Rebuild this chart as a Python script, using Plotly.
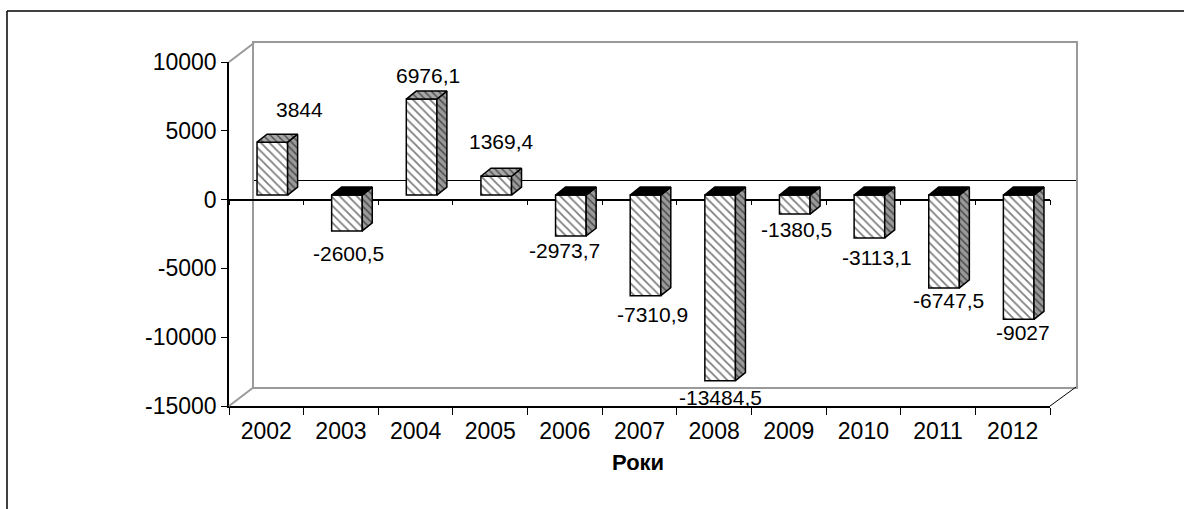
import plotly.graph_objects as go

# ---------------- data ----------------
years = ["2002", "2003", "2004", "2005", "2006", "2007", "2008", "2009", "2010", "2011", "2012"]
values = [3844, -2600.5, 6976.1, 1369.4, -2973.7, -7310.9, -13484.5, -1380.5, -3113.1, -6747.5, -9027]
y_tick_vals = [10000, 5000, 0, -5000, -10000, -15000]
y_tick_text = ["10000", "5000", "0", "-5000", "-10000", "-15000"]
x_title = "Роки"

# data-label offsets (pixels) relative to the bar end
label_dx = [27, 2, 6, 5, -6, 7, 0, 2, 8, 4, 4]
label_dy = [33, -23, 24, 35, -14, -19, -17, -15, -20, -13, -13]

# ---------------- geometry (reference pixel frame) ----------------
W, H = 1184, 509
def fx(px): return px / W
def fy(py): return 1 - py / H

Y_MIN, Y_MAX = -15000, 10000
n = len(years)
X_MIN, X_MAX = -0.5, n - 0.5

FRONT_L, FRONT_R, FRONT_T, FRONT_B = 229, 1050, 62, 406
BACK_L, BACK_R, BACK_T, BACK_B = 254, 1076, 43, 387
PLANE_DX, PLANE_DY = 6, 4.5          # bar plane offset from front plane
DEPTH_X, DEPTH_Y = 10, 8              # visible bar depth
BAR_W = 0.41
ZERO_FRONT_PX = FRONT_B - (0 - Y_MIN) * (FRONT_B - FRONT_T) / (Y_MAX - Y_MIN)

ux = (FRONT_R - FRONT_L) / n
uy = (FRONT_B - FRONT_T) / (Y_MAX - Y_MIN)
dxd = DEPTH_X / ux
dyd = DEPTH_Y / uy

FONT = "Arial, Liberation Sans, sans-serif"
WALL = "#9a9a9a"

fig = go.Figure()

# back wall (xy)
fig.add_trace(go.Scatter(x=[0.5], y=[0], mode="markers", marker=dict(opacity=0),
                         hoverinfo="skip", showlegend=False, xaxis="x", yaxis="y"))
# front axes (x2y2)
fig.add_trace(go.Scatter(x=list(range(n)), y=[0] * n, mode="markers", marker=dict(opacity=0),
                         hoverinfo="skip", showlegend=False, xaxis="x2", yaxis="y2"))
# front zero line axis (x4y2)
fig.add_trace(go.Scatter(x=list(range(n)), y=[0] * n, mode="markers", marker=dict(opacity=0),
                         hoverinfo="skip", showlegend=False, xaxis="x4", yaxis="y2"))

# bars (x3y3)
fig.add_trace(go.Bar(
    x=list(range(n)), y=values, width=BAR_W, xaxis="x3", yaxis="y3",
    marker=dict(color="white", line=dict(color="black", width=1.5),
                pattern=dict(shape="\\", fillmode="overlay", fgcolor="black",
                             size=6, solidity=0.3)),
    hoverinfo="skip", showlegend=False,
))

side_x, side_y, topg_x, topg_y, topb_x, topb_y = [], [], [], [], [], []
for i, v in enumerate(values):
    xl, xr = i - BAR_W / 2, i + BAR_W / 2
    side_x += [xr, xr, xr + dxd, xr + dxd, xr, None]
    side_y += [0, v, v + dyd, dyd, 0, None]
    lvl = v if v > 0 else 0
    tx = [xl, xr, xr + dxd, xl + dxd, xl, None]
    ty = [lvl, lvl, lvl + dyd, lvl + dyd, lvl, None]
    if v > 0:
        topg_x += tx; topg_y += ty
    else:
        topb_x += tx; topb_y += ty

hatch = dict(shape="\\", fillmode="overlay", fgcolor="black", size=5, solidity=0.3)
for xs, ys, col, pat in [(side_x, side_y, "#9a9a9a", hatch), (topg_x, topg_y, "#a8a8a8", hatch),
                         (topb_x, topb_y, "black", None)]:
    kw = dict(fillpattern=pat) if pat else {}
    fig.add_trace(go.Scatter(x=xs, y=ys, mode="lines", fill="toself", fillcolor=col,
                             line=dict(color="black", width=1.5), xaxis="x3", yaxis="y3",
                             hoverinfo="skip", showlegend=False, **kw))

annotations = []
for i, v in enumerate(values):
    txt = f"{v:g}".replace(".", ",")
    annotations.append(dict(x=i, y=v, xref="x3", yref="y3", text=txt, showarrow=False,
                            xshift=label_dx[i], yshift=label_dy[i],
                            font=dict(family=FONT, size=21, color="black")))
annotations.append(dict(x=fx(638), y=fy(477), xref="paper", yref="paper",
                        text=f"<b>{x_title}</b>", showarrow=False,
                        font=dict(family=FONT, size=22, color="black")))

boundaries = [i - 0.5 for i in range(n + 1)]

shapes = [
    # outer frame
    dict(type="line", xref="paper", yref="paper", x0=fx(7), y0=fy(11), x1=1, y1=fy(11),
         line=dict(color="black", width=1.5)),
    dict(type="line", xref="paper", yref="paper", x0=fx(7), y0=fy(11), x1=fx(7), y1=0,
         line=dict(color="black", width=1.5)),
    # 3D diagonals
    dict(type="line", xref="paper", yref="paper", x0=fx(FRONT_L), y0=fy(FRONT_T),
         x1=fx(BACK_L), y1=fy(BACK_T), line=dict(color=WALL, width=2)),
    dict(type="line", xref="paper", yref="paper", x0=fx(FRONT_L), y0=fy(FRONT_B),
         x1=fx(BACK_L), y1=fy(BACK_B), line=dict(color=WALL, width=2)),
    dict(type="line", xref="paper", yref="paper", x0=fx(FRONT_R), y0=fy(FRONT_B),
         x1=fx(BACK_R), y1=fy(BACK_B), line=dict(color="black", width=1)),
]

common = dict(automargin=False, fixedrange=True)

fig.update_layout(
    template="none",
    width=W, height=H, autosize=False,
    margin=dict(l=0, r=0, t=0, b=0, pad=0, autoexpand=False),
    paper_bgcolor="white", plot_bgcolor="rgba(0,0,0,0)",
    showlegend=False, hovermode=False,
    font=dict(family=FONT, size=21, color="black"),
    xaxis=dict(domain=[fx(BACK_L), fx(BACK_R)], range=[0, 1], anchor="y",
               showline=True, mirror=True, linecolor=WALL, linewidth=2,
               showgrid=False, zeroline=False, showticklabels=False, ticks="", **common),
    yaxis=dict(domain=[fy(BACK_B), fy(BACK_T)], range=[Y_MIN, Y_MAX], anchor="x",
               showline=True, mirror=True, linecolor=WALL, linewidth=2,
               showgrid=False, zeroline=True, zerolinecolor="black", zerolinewidth=1,
               showticklabels=False, ticks="", **common),
    xaxis2=dict(domain=[fx(FRONT_L), fx(FRONT_R)], range=[X_MIN, X_MAX], anchor="y2",
                tickmode="array", tickvals=list(range(n)), ticktext=years,
                ticks="outside", ticklen=0, ticklabelstandoff=4,
                minor=dict(tickmode="array", tickvals=boundaries, ticks="outside",
                           ticklen=7, tickcolor="black", tickwidth=1, showgrid=False),
                showline=True, linecolor="black", linewidth=1.5,
                showgrid=False, zeroline=False, tickfont=dict(size=23), **common),
    yaxis2=dict(domain=[fy(FRONT_B), fy(FRONT_T)], range=[Y_MIN, Y_MAX], anchor="x2",
                tickmode="array", tickvals=y_tick_vals, ticktext=y_tick_text,
                ticks="outside", ticklen=6, tickcolor="black", tickwidth=1,
                showline=True, linecolor="black", linewidth=1.5,
                showgrid=False, zeroline=False, tickfont=dict(size=23), **common),
    xaxis4=dict(overlaying="x2", anchor="free", position=fy(ZERO_FRONT_PX),
                range=[X_MIN, X_MAX], showticklabels=False, ticks="",
                minor=dict(tickmode="array", tickvals=boundaries, ticks="outside",
                           ticklen=5, tickcolor="black", tickwidth=1, showgrid=False),
                showline=True, linecolor="black", linewidth=1.5,
                showgrid=False, zeroline=False, **common),
    xaxis3=dict(domain=[fx(FRONT_L + PLANE_DX), fx(FRONT_R + PLANE_DX)], range=[X_MIN, X_MAX],
                anchor="y3", visible=False, **common),
    yaxis3=dict(domain=[fy(FRONT_B - PLANE_DY), fy(FRONT_T - PLANE_DY)], range=[Y_MIN, Y_MAX],
                anchor="x3", visible=False, **common),
    annotations=annotations,
    shapes=shapes,
)

fig.write_html("out.html", config={"displayModeBar": False},
               post_script="document.body.style.margin='0';document.body.style.overflow='hidden';")
